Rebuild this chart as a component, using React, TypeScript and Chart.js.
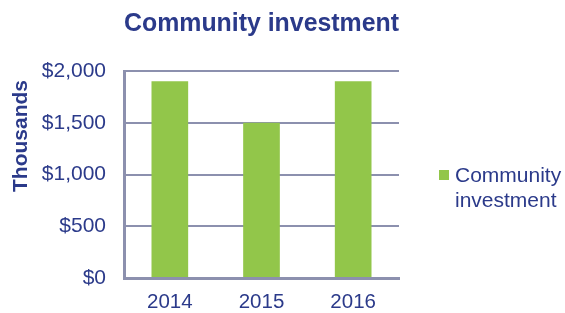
import React, { useEffect, useRef } from "react";
import { Chart, registerables } from "chart.js";

Chart.register(...registerables);

const categories = ["2014", "2015", "2016"];
const seriesLabel = "Community investment";
const seriesValues = [1900, 1500, 1900];
const yTicks = [0, 500, 1000, 1500, 2000];
const chartTitle = "Community investment";
const yAxisTitle = "Thousands";

const TEXT = "#2B3A8A";
const GRID = "#8C90AE";
const BAR = "#92C64A";
const FONT = "'Liberation Sans', Arial, sans-serif";

const extrasPlugin = {
  id: "extras",
  afterDraw(chart: any) {
    const { ctx, chartArea } = chart;
    ctx.save();
    // y axis title
    ctx.fillStyle = TEXT;
    ctx.font = `bold 21px ${FONT}`;
    ctx.textAlign = "center";
    ctx.textBaseline = "middle";
    ctx.translate(21, chartArea.top + 65);
    ctx.rotate(-Math.PI / 2);
    ctx.fillText(yAxisTitle, 0, 0);
    ctx.restore();

    // legend
    ctx.save();
    const ds = chart.data.datasets[0];
    const words = String(ds.label).split(" ");
    const x0 = chartArea.right + 40;
    const yMid = chartArea.top + 104;
    ctx.fillStyle = ds.backgroundColor;
    ctx.fillRect(x0, yMid - 5, 10, 10);
    ctx.fillStyle = TEXT;
    ctx.font = `21px ${FONT}`;
    ctx.textAlign = "left";
    ctx.textBaseline = "middle";
    words.forEach((w: string, i: number) => {
      ctx.fillText(w, x0 + 16, yMid + 1 + i * 25);
    });
    ctx.restore();
  },
};

export default function App() {
  const ref = useRef<HTMLCanvasElement | null>(null);
  useEffect(() => {
    if (!ref.current) return;
    const chart = new Chart(ref.current, {
      type: "bar",
      data: {
        labels: categories,
        datasets: [
          {
            label: seriesLabel,
            data: seriesValues,
            backgroundColor: BAR,
            borderWidth: 0,
            barPercentage: 0.4,
            categoryPercentage: 1,
          },
        ],
      },
      options: {
        animation: false,
        responsive: true,
        maintainAspectRatio: false,
        layout: { padding: { left: 0, right: 166, top: 9, bottom: 0 } },
        plugins: {
          legend: { display: false },
          tooltip: { enabled: false },
          title: {
            display: true,
            text: chartTitle,
            fullSize: false,
            color: TEXT,
            font: { family: FONT, size: 25, weight: "bold" },
            padding: { top: 0, bottom: 32 },
          },
        },
        scales: {
          x: {
            grid: { display: false, drawTicks: false },
            border: { display: true, color: GRID, width: 3 },
            ticks: {
              color: TEXT,
              font: { family: FONT, size: 20.5 },
              padding: 12,
            },
            afterFit: (s: any) => {
              s.height = 35;
            },
          },
          y: {
            min: 0,
            max: 2000,
            afterBuildTicks: (axis: any) => {
              axis.ticks = yTicks.map((v) => ({ value: v }));
            },
            grid: { color: GRID, lineWidth: 2, drawTicks: false },
            border: { display: true, color: GRID, width: 3 },
            ticks: {
              color: TEXT,
              font: { family: FONT, size: 21 },
              padding: 18,
              callback: (v: any) => "$" + Number(v).toLocaleString("en-US"),
            },
            afterFit: (s: any) => {
              s.width = 124;
            },
          },
        },
      },
      plugins: [extrasPlugin],
    });
    return () => chart.destroy();
  }, []);
  return (
    <div style={{ position: "absolute", left: 0, top: 0, width: 565, height: 313, background: "#fff" }}>
      <canvas ref={ref} />
    </div>
  );
}
